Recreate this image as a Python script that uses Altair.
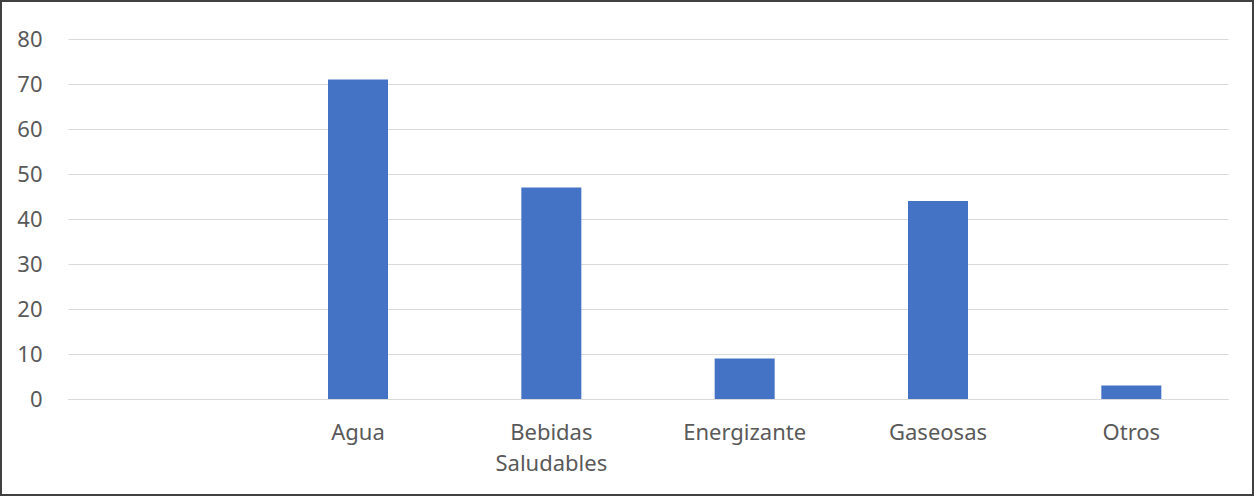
import altair as alt
import pandas as pd

categories = ["", "Agua", "Bebidas Saludables", "Energizante", "Gaseosas", "Otros"]
values = [None, 71, 47, 9, 44, 3]

df = pd.DataFrame({"cat": categories, "val": values})

FONT = "Noto Sans"
GRAY = "#595959"

bars = alt.Chart(df).mark_bar(color="#4472C4", size=60).encode(
    x=alt.X("cat:N", sort=categories, title=None,
            scale=alt.Scale(paddingInner=0, paddingOuter=0),
            axis=alt.Axis(labelAngle=0, ticks=False, domain=True, domainColor="#d9d9d9",
                          labelColor=GRAY, labelFont=FONT, labelFontSize=22,
                          labelPadding=23, labelLineHeight=31,
                          labelExpr="split(datum.label, ' ')")),
    y=alt.Y("val:Q", title=None,
            scale=alt.Scale(domain=[0, 80]),
            axis=alt.Axis(values=[0, 10, 20, 30, 40, 50, 60, 70, 80], ticks=False, domain=False,
                          gridColor="#d9d9d9", labelColor=GRAY, labelFont=FONT,
                          labelFontSize=22, labelPadding=26)),
)

frame = alt.Chart(pd.DataFrame({"a": [0]})).mark_rect(
    fill=None, stroke="#404040", strokeWidth=2, clip=False
).encode(
    x=alt.value(-67), x2=alt.value(1185), y=alt.value(-38), y2=alt.value(456)
)

chart = alt.layer(bars, frame).properties(
    width=1160, height=360,
    padding={"left": 68, "top": 39, "right": 30, "bottom": 99},
    autosize=alt.AutoSizeParams(type="none"),
    background="white",
).configure_view(stroke=None)

chart.save("out.html", embed_options={"renderer": "svg", "actions": False})
